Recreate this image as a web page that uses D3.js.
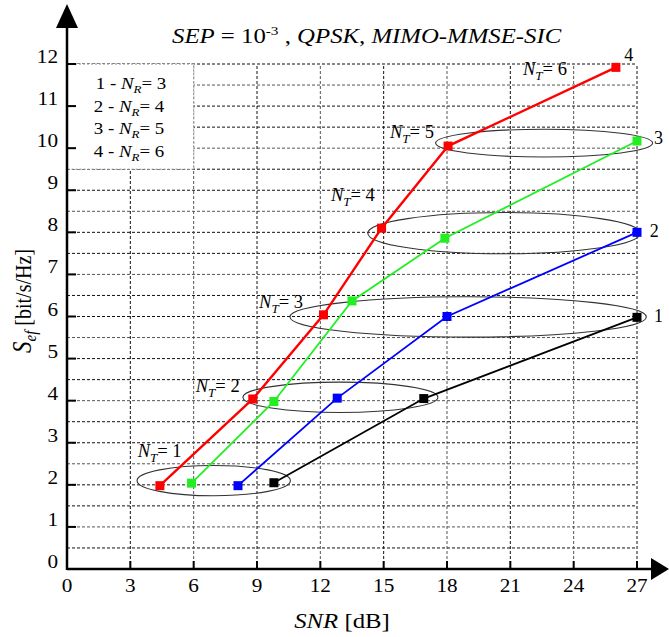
<!DOCTYPE html>
<html>
<head>
<meta charset="utf-8">
<script src="https://cdn.jsdelivr.net/npm/d3@7"></script>
<style>
	body { margin: 0; background: #fff; }
</style>
</head>
<body>
<svg id="chart" width="669" height="637" font-family="Liberation Serif"></svg>
<script>
// data

const xTicks = [0, 3, 6, 9, 12, 15, 18, 21, 24, 27];
const yTicks = [0, 1, 2, 3, 4, 5, 6, 7, 8, 9, 10, 11, 12];

// curve 1 .. 4  (N_R = 3 .. 6)
const snrR3 = [9.8, 16.9, 27.0];
const sefR3 = [2.05, 4.05, 5.98];
const snrR4 = [8.1, 12.8, 18.0, 27.0];
const sefR4 = [1.98, 4.06, 6.0, 8.0];
const snrR5 = [5.9, 9.8, 13.5, 17.9, 27.0];
const sefR5 = [2.04, 3.98, 6.37, 7.86, 10.17];
const snrR6 = [4.4, 8.8, 12.15, 14.9, 18.05, 26.0];
const sefR6 = [1.98, 4.04, 6.04, 8.1, 10.05, 11.92];

const curveNames = ["1", "2", "3", "4"];
const legendLines = ["1 - ", "2 - ", "3 - ", "4 - "];
const legendNR = [3, 4, 5, 6];

// N_T groups: ellipse centre, half-width (dB), half-height (bit/s/Hz)
const ntValues = [1, 2, 3, 4, 5, 6];
const ellipseCx = [6.95, 12.95, 19.0, 20.7, 22.6];
const ellipseCy = [2.1, 4.08, 5.99, 7.98, 10.12];
const ellipseRx = [3.63, 4.62, 8.44, 6.45, 5.14];
const ellipseRy = [0.36, 0.36, 0.48, 0.49, 0.33];
// N_T label anchor (snr, sef)
const ntLabelX = [3.35, 6.1, 9.1, 12.5, 15.3, 21.6];
const ntLabelY = [2.65, 4.2, 6.2, 8.75, 10.25, 11.75];

// --------------------------------------------------------------------

const svg = d3.select("#chart");
const sx = 1.18;	// the original figure is a bit wider than tall

const x = d3.scaleLinear().domain([0, 27]).range([67, 637]);
const y = d3.scaleLinear().domain([0, 12]).range([569, 64]);

const series = [
	{ snr: snrR3, sef: sefR3, color: "#000", width: 1.8 },
	{ snr: snrR4, sef: sefR4, color: "#0000ff", width: 1.8 },
	{ snr: snrR5, sef: sefR5, color: "#22ee22", width: 1.8 },
	{ snr: snrR6, sef: sefR6, color: "#ff0000", width: 2.4 }
];

function place(sel, px, py) {
	return sel.attr("transform", d => {
		const a = typeof px === "function" ? px(d) : px;
		const b = typeof py === "function" ? py(d) : py;
		return `translate(${a},${b}) scale(${sx},1)`;
	});
}

// grid
const grid = svg.append("g").attr("class", "grid");

grid.selectAll("line.h")
	.data(d3.range(1, 25).map(i => i / 2))
	.join("line")
	.attr("x1", x(0)).attr("x2", x(27))
	.attr("y1", d => y(d)).attr("y2", d => y(d))
	.attr("stroke", (d, i) => i % 3 === 1 ? "#555" : "#111")
	.attr("stroke-width", 1)
	.attr("stroke-dasharray", "3,2");

grid.selectAll("line.v")
	.data(xTicks.slice(1))
	.join("line")
	.attr("x1", d => x(d)).attr("x2", d => x(d))
	.attr("y1", y(0)).attr("y2", y(12))
	.attr("stroke", (d, i) => i % 2 === 1 ? "#555" : "#111")
	.attr("stroke-width", 1)
	.attr("stroke-dasharray", "3,2");

// legend box
const legend = svg.append("g");
legend.append("rect")
	.attr("x", x(0)).attr("y", y(12))
	.attr("width", x(6) - x(0)).attr("height", y(9.5) - y(12))
	.attr("fill", "#fff")
	.attr("stroke", "#888")
	.attr("stroke-dasharray", "2,2");

legendLines.forEach((t, i) => {
	const tx = place(legend.append("text"), 131 - (i > 0 ? 2 : 0), 89 + i * 22.5)
		.attr("text-anchor", "middle")
		.attr("font-size", 16);
	tx.append("tspan").text(t);
	tx.append("tspan").attr("font-style", "italic").text("N");
	tx.append("tspan").attr("font-style", "italic").attr("font-size", 11).attr("dy", 4).text("R");
	tx.append("tspan").attr("dy", -4).text("= " + legendNR[i]);
});

// ellipses
svg.append("g")
	.selectAll("ellipse")
	.data(ellipseCx)
	.join("ellipse")
	.attr("cx", d => x(d))
	.attr("cy", (d, i) => y(ellipseCy[i]))
	.attr("rx", (d, i) => x(ellipseRx[i]) - x(0))
	.attr("ry", (d, i) => y(0) - y(ellipseRy[i]))
	.attr("fill", "none")
	.attr("stroke", "#333")
	.attr("stroke-width", 1.1);

// curves
const line = d3.line().x(d => x(d[0])).y(d => y(d[1]));

series.forEach(s => {
	const pts = s.snr.map((v, i) => [v, s.sef[i]]);
	const g = svg.append("g");
	g.append("path")
		.attr("d", line(pts))
		.attr("fill", "none")
		.attr("stroke", s.color)
		.attr("stroke-width", s.width);
	g.selectAll("rect")
		.data(pts)
		.join("rect")
		.attr("x", d => x(d[0]) - 4.5)
		.attr("y", d => y(d[1]) - 4.5)
		.attr("width", 9).attr("height", 9)
		.attr("fill", s.color);
});

// curve numbers
const curveNumPos = [[27.8, 5.98], [27.6, 8.0], [27.8, 10.22], [26.4, 12.2]];
svg.append("g")
	.selectAll("text")
	.data(curveNames)
	.join("text")
	.attr("x", (d, i) => x(curveNumPos[i][0]))
	.attr("y", (d, i) => y(curveNumPos[i][1]) + 5)
	.attr("font-size", 18)
	.text(d => d);

// N_T labels
ntValues.forEach((n, i) => {
	const tx = svg.append("text")
		.attr("x", x(ntLabelX[i])).attr("y", y(ntLabelY[i]))
		.attr("font-size", 18.5);
	tx.append("tspan").attr("font-style", "italic").text("N");
	tx.append("tspan").attr("font-style", "italic").attr("font-size", 13).attr("dy", 5).text("T");
	tx.append("tspan").attr("dy", -5).text("= " + n);
});

// axes
const axes = svg.append("g");
axes.append("line")
	.attr("x1", x(0)).attr("x2", 652)
	.attr("y1", y(0)).attr("y2", y(0))
	.attr("stroke", "#000").attr("stroke-width", 2.5);
axes.append("line")
	.attr("x1", x(0)).attr("x2", x(0))
	.attr("y1", y(0) + 1).attr("y2", 26)
	.attr("stroke", "#000").attr("stroke-width", 2.5);
axes.append("path")
	.attr("d", `M${x(0) - 11},28 L${x(0)},4 L${x(0) + 11},28 Z`)
	.attr("fill", "#000");
axes.append("path")
	.attr("d", `M651,${y(0) - 11} L669,${y(0)} L651,${y(0) + 11} Z`)
	.attr("fill", "#000");

axes.selectAll("line.yt")
	.data(yTicks.slice(1))
	.join("line")
	.attr("x1", x(0)).attr("x2", x(0) + 9)
	.attr("y1", d => y(d)).attr("y2", d => y(d))
	.attr("stroke", "#000").attr("stroke-width", 2);

axes.selectAll("line.xt")
	.data(xTicks.slice(1))
	.join("line")
	.attr("x1", d => x(d)).attr("x2", d => x(d))
	.attr("y1", y(0)).attr("y2", y(0) - 8)
	.attr("stroke", "#000").attr("stroke-width", 2);

place(axes.selectAll("text.yl")
	.data(yTicks)
	.join("text"), 58, d => y(d) - 1)
	.attr("text-anchor", "end")
	.attr("font-size", 18)
	.text(d => d);

place(axes.selectAll("text.xl")
	.data(xTicks)
	.join("text"), d => x(d), 592)
	.attr("text-anchor", "middle")
	.attr("font-size", 18)
	.text(d => d);

// title
const title = place(svg.append("text"), 172, 43)
	.attr("font-size", 21);
title.append("tspan").attr("font-style", "italic").text("SEP");
title.append("tspan").text(" = 10");
title.append("tspan").attr("font-size", 13).attr("dy", -8).text("-3");
title.append("tspan").attr("dy", 8).text(" , ");
title.append("tspan").attr("font-style", "italic").text("QPSK, MIMO-MMSE-SIC");

// axis titles
const xt = place(svg.append("text"), 342, 628)
	.attr("text-anchor", "middle")
	.attr("font-size", 21);
xt.append("tspan").attr("font-style", "italic").text("SNR");
xt.append("tspan").text(" [dB]");

const yt = svg.append("text")
	.attr("transform", `translate(31,301) scale(${sx},1) rotate(-90)`)
	.attr("text-anchor", "middle")
	.attr("font-size", 20);
yt.append("tspan").attr("font-style", "italic").attr("font-size", 23).text("S");
yt.append("tspan").attr("font-style", "italic").attr("font-size", 15).attr("dy", 4).text("ef");
yt.append("tspan").attr("dy", -4).text(" [bit/s/Hz]");
</script>
</body>
</html>
